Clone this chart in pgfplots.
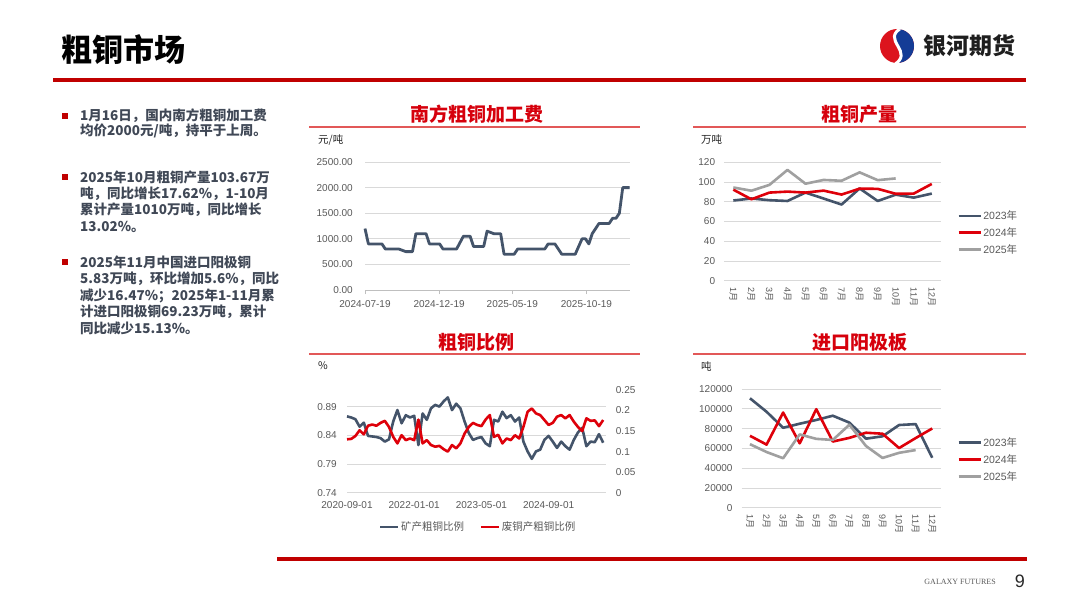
\documentclass[border=0pt]{standalone}
\usepackage{pgfplots}
\pgfplotsset{compat=1.18}
\usepackage{fontspec}
\setmainfont{Liberation Sans}
\newfontfamily\cjk{Noto Sans CJK SC}
\newfontfamily\serif{Liberation Serif}

\definecolor{headred}{RGB}{192,0,0}
\definecolor{titlered}{RGB}{214,0,12}
\definecolor{thinred}{RGB}{226,88,88}
\definecolor{darkline}{RGB}{68,84,106}
\definecolor{redline}{RGB}{222,0,10}
\definecolor{grayline}{RGB}{160,160,160}
\definecolor{gridgray}{RGB}{217,217,217}
\definecolor{axgray}{RGB}{191,191,191}
\definecolor{tickgray}{RGB}{89,89,89}
\definecolor{slate}{RGB}{64,72,86}
\definecolor{logored}{RGB}{220,20,30}
\definecolor{logoblue}{RGB}{20,60,150}

\pgfplotsset{
  base/.style={
    scale only axis, anchor=south west,
    axis line style={draw=none},
    tick style={draw=none},
    ymajorgrids, grid style={draw=gridgray, line width=0.8bp},
    tick label style={font=\fontsize{10bp}{12bp}\selectfont, text=tickgray},
    /pgf/number format/assume math mode=true,
    /pgf/number format/1000 sep={},
    scaled y ticks=false,
    clip=false,
    legend image code/.code={\draw[##1, line width=2.6bp] (0bp,0bp) -- (22bp,0bp);},
  },
  monthx/.style={
    xmin=0.5, xmax=12.5, xtick={1,...,12},
    xticklabels={1{\cjk 月},2{\cjk 月},3{\cjk 月},4{\cjk 月},5{\cjk 月},6{\cjk 月},7{\cjk 月},8{\cjk 月},9{\cjk 月},10{\cjk 月},11{\cjk 月},12{\cjk 月}},
    xticklabel style={font=\fontsize{9bp}{11bp}\selectfont, inner sep=0pt, yshift=-7bp, rotate=-90, anchor=west},
    yticklabel style={anchor=east, inner sep=0pt, xshift=-9bp, /pgf/number format/fixed},
  },
  sidelegend/.style={
    legend style={at={(#1)}, anchor=west, draw=none, fill=none,
      font=\fontsize{10.5bp}{12bp}\selectfont, text=tickgray,
      row sep=3.5bp, inner sep=0pt, nodes={inner sep=1.5bp}},
    legend cell align=left,
  },
}

\begin{document}
\begin{tikzpicture}[x=1bp,y=-1bp]
\path[use as bounding box, fill=white] (0,0) rectangle (1080,608);

% header
\node[anchor=west, inner sep=0pt, font=\cjk\bfseries\fontsize{31bp}{34bp}\selectfont] at (61,50) {粗铜市场};
\fill[headred] (53,78.5) rectangle (1026,82.5);
% logo
\fill[logored] (897,46) circle (17);
\begin{scope}
  \clip (897,46) circle (17);
  \fill[logoblue] (903,27) .. controls (878,40) and (918,52) .. (892,66) -- (920,66) -- (920,27) -- cycle;
  \draw[white, line width=3bp] (903,27) .. controls (878,40) and (918,52) .. (892,66);
\end{scope}
\node[anchor=west, inner sep=0pt, text={rgb,255:red,30;green,30;blue,30}, font=\cjk\bfseries\fontsize{23bp}{26bp}\selectfont] at (923,46) {银河期货};

% footer
\fill[headred] (277,556.5) rectangle (1027,560.5);
\node[anchor=east, inner sep=0pt, text=tickgray, font=\serif\fontsize{8bp}{9bp}\selectfont] at (996,582) {GALAXY FUTURES};
\node[anchor=east, inner sep=0pt, text={rgb,255:red,40;green,40;blue,40}, font=\fontsize{18bp}{20bp}\selectfont] at (1025,581) {9};

% bullets
\begin{scope}[every node/.style={anchor=west, inner sep=0pt, text=slate, font=\cjk\bfseries\fontsize{13.5bp}{16bp}\selectfont}]
\fill[headred] (62,113) rectangle (68,119);
\node at (80,116) {1月16日，国内南方粗铜加工费};
\node at (80,131) {均价2000元/吨，持平于上周。};
\fill[headred] (62,174) rectangle (68,180);
\node at (80,177) {2025年10月粗铜产量103.67万};
\node at (80,194) {吨，同比增长17.62\%，1-10月};
\node at (80,210) {累计产量1010万吨，同比增长};
\node at (80,227) {13.02\%。};
\fill[headred] (62,259) rectangle (68,265);
\node at (80,262) {2025年11月中国进口阳极铜};
\node at (80,279) {5.83万吨，环比增加5.6\%，同比};
\node at (80,296) {减少16.47\%；2025年1-11月累};
\node at (80,312) {计进口阳极铜69.23万吨，累计};
\node at (80,328) {同比减少15.13\%。};
\end{scope}

% panel titles
\begin{scope}[every node/.style={inner sep=0pt, text=titlered, font=\cjk\bfseries\fontsize{19bp}{22bp}\selectfont}]
\node at (476.5,114) {南方粗铜加工费};
\node at (859,114) {粗铜产量};
\node at (476,342) {粗铜比例};
\node at (859.5,342) {进口阳极板};
\end{scope}
\draw[thinred, line width=1.5bp] (309,127) -- (640,127);
\draw[thinred, line width=1.5bp] (693,127) -- (1026,127);
\draw[thinred, line width=1.5bp] (309,354) -- (640,354);
\draw[thinred, line width=1.5bp] (693,354) -- (1026,354);
\begin{scope}[every node/.style={anchor=west, inner sep=0pt, text={rgb,255:red,38;green,38;blue,38}, font=\cjk\fontsize{10.5bp}{12bp}\selectfont}]
\node at (318,140) {元/吨};
\node at (701,140) {万吨};
\node at (318,366) {\%};
\node at (701,366) {吨};
\end{scope}

% chart 1: southern blister copper processing fee
\begin{axis}[base, at={(365bp,-290bp)}, width=265bp, height=128bp,
  xmin=0, xmax=547, ymin=0, ymax=2500, ytick={0,500,1000,1500,2000,2500},
  axis x line*=bottom, x axis line style={draw=axgray, line width=0.8bp},
  xtick style={draw=axgray, line width=0.8bp}, tick align=outside, major tick length=4bp,
  xtick={0,153,304,457}, xticklabels={2024-07-19,2024-12-19,2025-05-19,2025-10-19},
  xticklabel style={inner sep=0pt, anchor=north, yshift=-6bp},
  yticklabel style={anchor=east, inner sep=0pt, xshift=-8bp,
    /pgf/number format/fixed, /pgf/number format/fixed zerofill, /pgf/number format/precision=2},
]
\addplot[darkline, line width=2.8bp, line join=round] coordinates {
(0,1200)(7,900)(35,900)(42,800)(70,800)(84,750)(98,750)(105,1100)(126,1100)(133,900)
(154,900)(161,800)(189,800)(203,1050)(217,1050)(224,850)(245,850)(252,1150)(266,1100)(280,1100)
(287,700)(308,700)(315,800)(371,800)(378,900)(392,900)(406,700)(434,700)(448,1000)(455,1000)
(462,900)(469,1100)(483,1300)(504,1300)(511,1400)(518,1400)(525,1500)(532,2000)(546,2000)};
\end{axis}

% chart 2: blister copper output
\begin{axis}[base, monthx, sidelegend={1.075,0.405}, at={(724.3bp,-280.7bp)}, width=216.5bp, height=118.4bp,
  ymin=0, ymax=120, ytick={0,20,...,120}]
\addplot[darkline, line width=2.6bp, line join=round] coordinates {
(1,81.3)(2,83.3)(3,81.6)(4,80.8)(5,89.3)(6,83.3)(7,77.2)(8,93.5)(9,80.8)(10,87.2)(11,84.2)(12,88.3)};
\addlegendentry{2023{\cjk 年}}
\addplot[redline, line width=2.6bp, line join=round] coordinates {
(1,92.3)(2,82.5)(3,89.3)(4,90.3)(5,89.3)(6,91.3)(7,87.3)(8,93.3)(9,93.1)(10,88.1)(11,88.3)(12,98.1)};
\addlegendentry{2024{\cjk 年}}
\addplot[grayline, line width=2.6bp, line join=round] coordinates {
(1,94.5)(2,91.2)(3,97.1)(4,112.3)(5,98.3)(6,102.1)(7,101.3)(8,109.8)(9,101.9)(10,103.67)};
\addlegendentry{2025{\cjk 年}}
\end{axis}

% chart 3: share of blister copper by source
\begin{axis}[base, at={(347bp,-492.7bp)}, width=258.7bp, height=102.7bp,
  xmin=0, xmax=61.6, ymin=0.74, ymax=0.9189, ytick={0.74,0.79,0.84,0.89},
  xtick={0,16,32,48}, xticklabels={2020-09-01,2022-01-01,2023-05-01,2024-09-01},
  xticklabel style={inner sep=0pt, anchor=north, yshift=-9bp},
  yticklabel style={anchor=east, inner sep=0pt, xshift=-10bp,
    /pgf/number format/fixed, /pgf/number format/fixed zerofill, /pgf/number format/precision=2},
  legend image code/.code={\draw[#1, line width=2.6bp] (0bp,0bp) -- (18bp,0bp);},
  legend style={at={(0.506,-0.335)}, anchor=center, draw=none, fill=none,
    font=\cjk\fontsize{10.5bp}{12bp}\selectfont, text=tickgray,
    inner sep=0pt, nodes={inner sep=1.5bp}, /tikz/every even column/.append style={column sep=14bp}},
  legend columns=2,
]
\addplot[darkline, line width=2.6bp, line join=round] coordinates {
(0,0.873)(1,0.871)(2,0.868)(3,0.855)(4,0.862)(5,0.839)(6,0.838)(7,0.837)(8,0.835)(9,0.829)
(10,0.833)(11,0.864)(12,0.884)(13,0.861)(14,0.875)(15,0.871)(16,0.874)(17,0.823)(18,0.878)(19,0.867)
(20,0.887)(21,0.893)(22,0.890)(23,0.899)(24,0.906)(25,0.884)(26,0.895)(27,0.887)(28,0.864)(29,0.844)
(30,0.832)(31,0.835)(32,0.837)(33,0.826)(34,0.821)(35,0.867)(36,0.864)(37,0.881)(38,0.870)(39,0.875)
(40,0.864)(41,0.871)(42,0.829)(43,0.812)(44,0.799)(45,0.812)(46,0.815)(47,0.832)(48,0.839)(49,0.829)
(50,0.818)(51,0.829)(52,0.821)(53,0.815)(54,0.832)(55,0.845)(56,0.853)(57,0.821)(58,0.829)(59,0.828)
(60,0.842)(61,0.827)};
\addlegendentry{矿产粗铜比例}
\addlegendimage{redline}
\addlegendentry{废铜产粗铜比例}
\end{axis}
\begin{axis}[base, at={(347bp,-492.7bp)}, width=258.7bp, height=102.7bp,
  xmin=0, xmax=61.6, ymin=0, ymax=0.25, ymajorgrids=false,
  xtick=\empty, axis y line*=right,
  ytick={0,0.05,0.1,0.15,0.2,0.25}, yticklabels={0,0.05,0.1,0.15,0.2,0.25},
  yticklabel style={anchor=west, inner sep=0pt, xshift=10bp},
]
\addplot[redline, line width=2.6bp, line join=round] coordinates {
(0,0.130)(1,0.131)(2,0.138)(3,0.152)(4,0.142)(5,0.163)(6,0.166)(7,0.163)(8,0.170)(9,0.175)
(10,0.160)(11,0.136)(12,0.120)(13,0.140)(14,0.128)(15,0.132)(16,0.128)(17,0.178)(18,0.120)(19,0.128)
(20,0.116)(21,0.112)(22,0.114)(23,0.106)(24,0.100)(25,0.116)(26,0.108)(27,0.120)(28,0.144)(29,0.160)
(30,0.170)(31,0.165)(32,0.162)(33,0.178)(34,0.189)(35,0.136)(36,0.141)(37,0.120)(38,0.132)(39,0.128)
(40,0.140)(41,0.132)(42,0.160)(43,0.197)(44,0.205)(45,0.193)(46,0.189)(47,0.177)(48,0.165)(49,0.170)
(50,0.185)(51,0.189)(52,0.181)(53,0.189)(54,0.173)(55,0.160)(56,0.150)(57,0.181)(58,0.175)(59,0.176)
(60,0.162)(61,0.177)};
\end{axis}

% chart 4: anode imports
\begin{axis}[base, monthx, sidelegend={1.083,0.406}, at={(741.7bp,-507.7bp)}, width=198.8bp, height=118.7bp,
  ymin=0, ymax=120000, ytick={0,20000,40000,60000,80000,100000,120000}]
\addplot[darkline, line width=2.6bp, line join=round] coordinates {
(1,110600)(2,97000)(3,80800)(4,84900)(5,88700)(6,93000)(7,86000)(8,69800)(9,72200)(10,83600)(11,84500)(12,50500)};
\addlegendentry{2023{\cjk 年}}
\addplot[redline, line width=2.6bp, line join=round] coordinates {
(1,72700)(2,63800)(3,96200)(4,65100)(5,99600)(6,66900)(7,70600)(8,75800)(9,74800)(10,60300)(11,70400)(12,80100)};
\addlegendentry{2024{\cjk 年}}
\addplot[grayline, line width=2.6bp, line join=round] coordinates {
(1,64200)(2,56300)(3,50000)(4,74100)(5,69600)(6,68500)(7,83900)(8,62400)(9,50300)(10,55500)(11,58300)};
\addlegendentry{2025{\cjk 年}}
\end{axis}
\end{tikzpicture}
\end{document}
